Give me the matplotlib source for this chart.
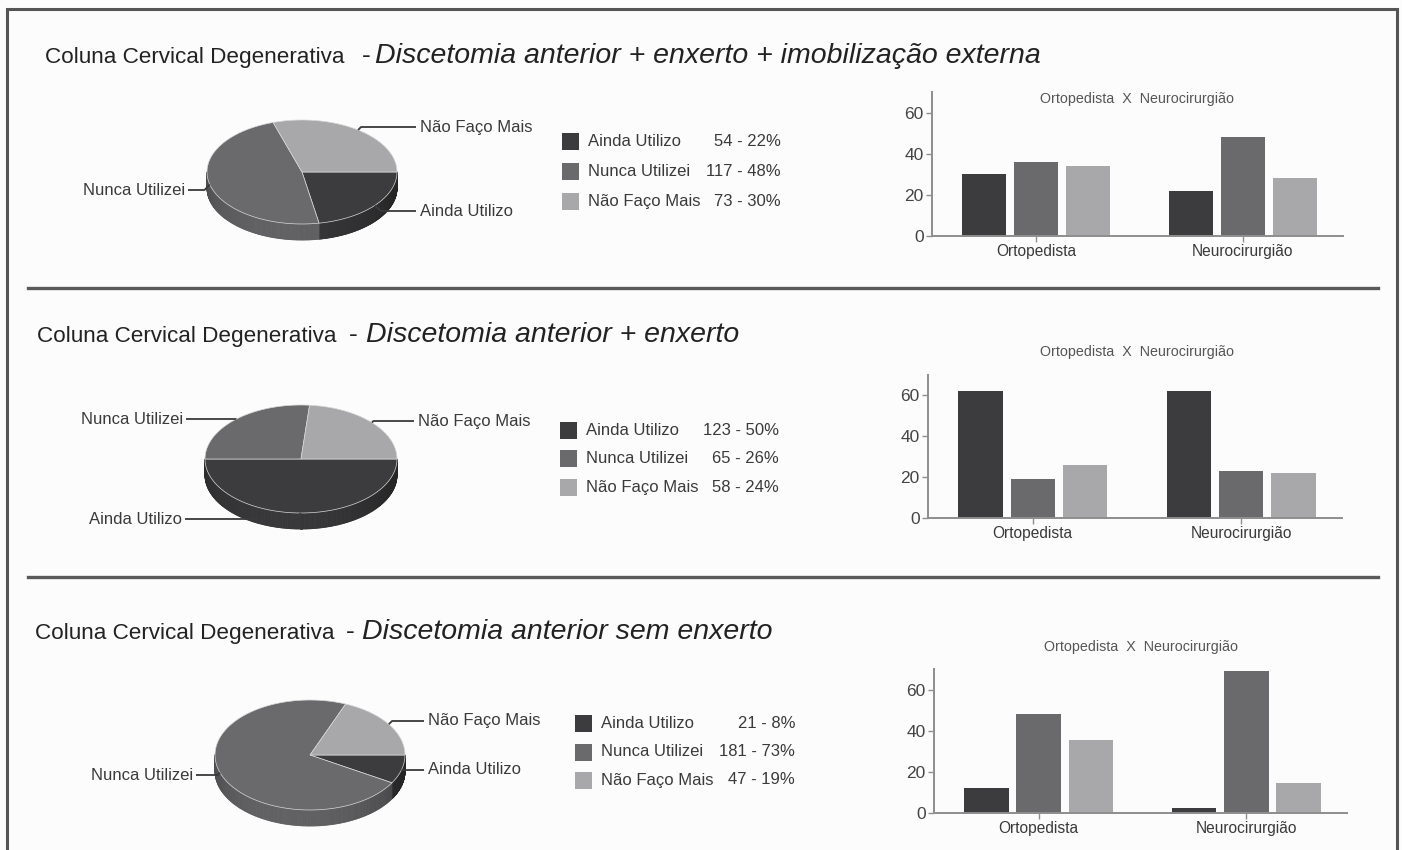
import numpy as np
import matplotlib
matplotlib.use("Agg")
import matplotlib.pyplot as plt
from matplotlib.collections import PolyCollection
from matplotlib.patches import Polygon, Rectangle
from matplotlib import colors as mcolors

plt.rcParams['font.family'] = ['Liberation Sans', 'DejaVu Sans']

W, H = 1402, 850

categorias = ['Ainda Utilizo', 'Nunca Utilizei', 'Não Faço Mais']
grupos = ['Ortopedista', 'Neurocirurgião']
titulo_base = 'Coluna Cervical Degenerativa'
titulos = ['Discetomia anterior + enxerto + imobilização externa',
           'Discetomia anterior + enxerto',
           'Discetomia anterior sem enxerto']
titulo_barras = 'Ortopedista  X  Neurocirurgião'

contagens_1 = [54, 117, 73]
percentuais_1 = [22, 48, 30]
contagens_2 = [123, 65, 58]
percentuais_2 = [50, 26, 24]
contagens_3 = [21, 181, 47]
percentuais_3 = [8, 73, 19]

# percentual por categoria (Ainda, Nunca, Não Faço) em cada especialidade
ortopedista_1 = [30, 36, 34]
neuro_1 = [22, 48, 28]
ortopedista_2 = [62, 19, 26]
neuro_2 = [62, 23, 22]
ortopedista_3 = [12, 48, 35.5]
neuro_3 = [2.5, 69, 14.5]

cores = ['#3c3c3e', '#6a6a6d', '#a8a8aa']
texto = '#3a3a3a'

# layout de cada faixa, em pixels
faixas = [
    dict(contagens=contagens_1, perc=percentuais_1, orto=ortopedista_1, neuro=neuro_1,
         titulo_xy=(45, 63), traco_x=362, italico_x=375,
         pizza=(302, 172, 95, 52, 16),
         rotulos=[(420, 211, 'l'), (185, 190, 'r'), (420, 127, 'l')],
         legenda=(562, [141, 171, 201], 588, 781),
         barras=(932, 1343, 92, 236), titulo_barras=(1137, 99)),
    dict(contagens=contagens_2, perc=percentuais_2, orto=ortopedista_2, neuro=neuro_2,
         titulo_xy=(37, 342), traco_x=349, italico_x=366,
         pizza=(301, 459, 96, 54, 16),
         rotulos=[(182, 519, 'r'), (183, 419, 'r'), (418, 421, 'l')],
         legenda=(560, [430, 458, 487], 586, 779),
         barras=(928, 1342, 375, 518), titulo_barras=(1137, 352)),
    dict(contagens=contagens_3, perc=percentuais_3, orto=ortopedista_3, neuro=neuro_3,
         titulo_xy=(35, 639), traco_x=346, italico_x=362,
         pizza=(310, 755, 95, 55, 16),
         rotulos=[(428, 770, 'l'), (193, 775, 'r'), (428, 721, 'l')],
         legenda=(575, [723, 752, 780], 601, 795),
         barras=(934, 1347, 669, 813), titulo_barras=(1141, 647)),
]


def sombra(cor, fator):
    rgb = np.array(mcolors.to_rgb(cor)) * fator
    return tuple(np.clip(rgb, 0, 1))


def pizza_3d(ax, valores, cx, cy, rx, ry, prof):
    fr = np.asarray(valores, float) / np.sum(valores)
    limites = -360 * np.concatenate([[0], np.cumsum(fr)])
    ex = lambda t: cx + rx * np.cos(np.radians(t))
    ey = lambda t: cy - ry * np.sin(np.radians(t))

    # lateral visível (metade da frente), em faixas finas com sombreamento
    quads, cq = [], []
    for i, cor in enumerate(cores):
        t = np.linspace(limites[i + 1], limites[i], 240)
        for a, b in zip(t[:-1], t[1:]):
            m = ((a + b) / 2) % 360
            if m <= 180:
                continue
            quads.append([(ex(a), ey(a)), (ex(b), ey(b)),
                          (ex(b), ey(b) + prof), (ex(a), ey(a) + prof)])
            luz = 0.62 + 0.3 * max(0.0, np.cos(np.radians(m - 255)))
            cq.append(sombra(cor, luz))
    ax.add_collection(PolyCollection(quads, facecolors=cq, edgecolors=cq,
                                     linewidths=0.6, zorder=2))

    # tampa
    for i, cor in enumerate(cores):
        t = np.linspace(limites[i + 1], limites[i], 120)
        pts = np.column_stack([ex(t), ey(t)])
        pts = np.vstack([[cx, cy], pts])
        ax.add_patch(Polygon(pts, closed=True, facecolor=cor,
                             edgecolor='#d8d8d8', linewidth=0.5, zorder=3))

    meios = (limites[:-1] + limites[1:]) / 2
    return [(ex(m), ey(m)) for m in meios]


fig = plt.figure(figsize=(W / 100, H / 100), dpi=100)
fig.patch.set_facecolor('#fcfcfc')
bg = fig.add_axes([0, 0, 1, 1])
bg.set_xlim(0, W)
bg.set_ylim(H, 0)
bg.axis('off')

# moldura e separadores
bg.plot([7, 7, 1397, 1397], [H, 9, 9, H], color='#555555', lw=2.2,
        solid_joinstyle='miter', zorder=1)
for y in (288, 577):
    bg.plot([28, 1378], [y, y], color='#5a5a5a', lw=2.4, zorder=1)

for f, sub in zip(faixas, titulos):
    tx, ty = f['titulo_xy']
    bg.text(tx, ty, titulo_base, fontsize=16.2, color='#222222', va='baseline')
    bg.text(f['traco_x'], ty, '-', fontsize=19, color='#222222', va='baseline')
    bg.text(f['italico_x'], ty, sub, fontsize=20.5, color='#222222',
            va='baseline', style='italic')

    cx, cy, rx, ry, prof = f['pizza']
    ancoras = pizza_3d(bg, f['contagens'], cx, cy, rx, ry, prof)

    # rótulos com linha de chamada
    for nome, (ax_, ay_), (lx, ly, lado) in zip(categorias, ancoras, f['rotulos']):
        s = 1 if lado == 'l' else -1
        joelho = ax_ + s * min(6, abs(ly - ay_))
        fim = lx - 4 if lado == 'l' else lx + 3
        bg.plot([ax_, joelho, fim], [ay_, ly, ly], color='#3a3a3a', lw=1.3,
                zorder=4, solid_capstyle='butt')
        bg.text(lx, ly, nome, fontsize=12, color=texto, va='center',
                ha='left' if lado == 'l' else 'right', zorder=5)

    # legenda
    qx, ys, lx, vx = f['legenda']
    for cor, nome, n, p, y in zip(cores, categorias, f['contagens'], f['perc'], ys):
        bg.add_patch(Rectangle((qx, y - 8.5), 17, 17, facecolor=cor,
                               edgecolor='none', zorder=3))
        bg.text(lx, y, nome, fontsize=12, color=texto, va='center')
        bg.text(vx, y, f'{n} - {p}%', fontsize=12, color=texto, va='center',
                ha='right')

    # barras
    esq, dir_, topo, base = f['barras']
    ax = fig.add_axes([esq / W, 1 - base / H, (dir_ - esq) / W, (base - topo) / H])
    ax.patch.set_alpha(0)
    largura, passo = 0.213, 0.251
    x = np.arange(len(grupos))
    for i, cor in enumerate(cores):
        ax.bar(x + (i - 1) * passo, [f['orto'][i], f['neuro'][i]], largura,
               color=cor, zorder=2)
    ax.set_ylim(0, 70)
    ax.set_xlim(-0.503, 1.484)
    ax.set_yticks([0, 20, 40, 60])
    ax.set_xticks(x)
    ax.set_xticklabels(grupos)
    for lado in ('top', 'right'):
        ax.spines[lado].set_visible(False)
    for lado in ('left', 'bottom'):
        ax.spines[lado].set_color('#8e8e8e')
        ax.spines[lado].set_linewidth(1.4)
    ax.tick_params(axis='y', length=4, width=1, color='#8e8e8e', pad=2,
                   labelsize=12.5, labelcolor='#444444')
    ax.tick_params(axis='x', length=4, width=1, color='#8e8e8e', pad=2,
                   labelsize=11.2, labelcolor=texto)

    bx, by = f['titulo_barras']
    bg.text(bx, by, titulo_barras, fontsize=10.3, color='#555555',
            ha='center', va='center')

fig.savefig('out.png', dpi=100, facecolor=fig.get_facecolor())
